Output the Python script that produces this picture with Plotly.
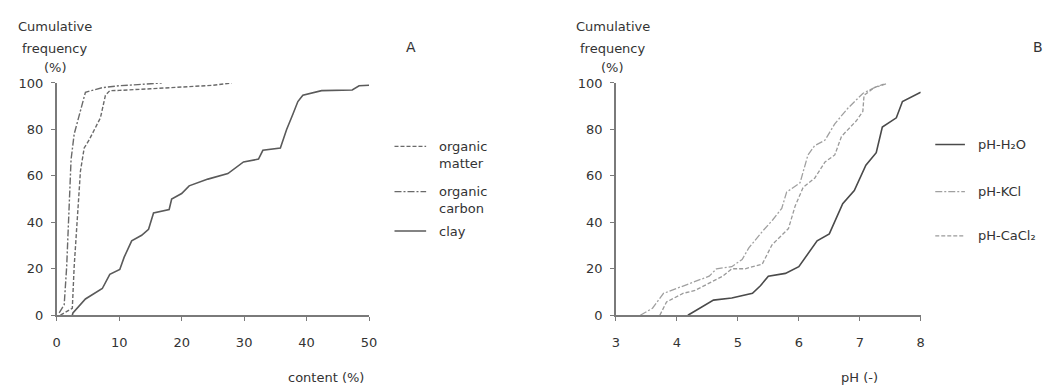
import plotly.graph_objects as go

# ---- Panel A: cumulative frequency of soil content (%) ----
om_content = [0.6, 2.5, 2.8, 3.3, 3.8, 4.4, 5.2, 7.0, 7.8, 8.5, 10, 15, 20, 25, 28]
om_freq = [0, 3, 21, 40, 62, 72, 75.5, 85, 94.7, 96.7, 96.8, 97.5, 98.3, 99, 100]

oc_content = [0.4, 1.2, 1.6, 2.0, 2.3, 2.8, 3.6, 4.6, 7.3, 10, 13, 16.8]
oc_freq = [1, 4.5, 21, 48, 67, 78, 86.5, 96, 98, 98.8, 99.3, 100]

clay_content = [2.5, 2.6, 4.6, 7.3, 8.5, 10.1, 10.8, 12.0, 13.6, 14.7, 15.5, 18.0,
                18.4, 20.0, 21.2, 24.2, 27.4, 29.9, 32.3, 33.0, 35.8, 36.8, 37.8,
                38.6, 39.4, 42.4, 47.3, 48.4, 50.0]
clay_freq = [0, 1, 7, 11.5, 17.6, 19.7, 25, 32, 34.4, 37, 44, 45.5,
             50, 52.4, 55.7, 58.6, 61, 66, 67.2, 71, 72, 80, 86.5,
             92, 94.7, 96.7, 97, 98.8, 99]

# ---- Panel B: cumulative frequency of pH ----
ph_h2o = [4.18, 4.6, 4.9, 5.24, 5.37, 5.5, 5.78, 6.0, 6.3, 6.5, 6.72, 6.91,
          7.1, 7.27, 7.37, 7.6, 7.7, 8.0]
ph_h2o_freq = [0, 6.5, 7.4, 9.4, 12.7, 16.8, 18, 20.9, 32, 35, 48, 53.7,
               64.6, 70, 81, 85, 92, 96]

ph_kcl = [3.4, 3.6, 3.78, 4.1, 4.53, 4.65, 4.9, 5.07, 5.18, 5.4, 5.57, 5.72,
          5.8, 6.02, 6.15, 6.26, 6.43, 6.59, 6.8, 7.05, 7.24, 7.43]
ph_kcl_freq = [0, 3, 9.4, 12.7, 16.8, 20, 20.9, 24, 29, 36, 41, 46,
               53, 57, 69, 73, 75.4, 82.4, 89, 95.5, 98, 99.6]

ph_cacl2 = [3.72, 3.83, 4.1, 4.3, 4.75, 4.9, 5.12, 5.4, 5.56, 5.83, 5.94, 6.07,
            6.26, 6.43, 6.59, 6.7, 6.94, 7.05, 7.07, 7.24, 7.4]
ph_cacl2_freq = [0, 5.7, 9.4, 10.7, 16.8, 20, 20, 22, 30.3, 37.3, 47, 55,
                 59, 66, 69, 77, 83.6, 87.7, 94.7, 98, 99.6]

y_ticks = [0, 20, 40, 60, 80, 100]
content_ticks = [0, 10, 20, 30, 40, 50]
ph_ticks = [3, 4, 5, 6, 7, 8]

FONT = "DejaVu Sans"
TXT = "#333333"
AX = "#7a7a7a"

DASH = "4px,2px"
DASHDOT = "7px,2px,2px,2px"

fig = go.Figure()

panel_a = [
    ("organic matter", om_content, om_freq, "#6a6a6a", DASH, 1.4),
    ("organic carbon", oc_content, oc_freq, "#6a6a6a", DASHDOT, 1.4),
    ("clay", clay_content, clay_freq, "#5a5a5a", "solid", 1.6),
]
for name, x, y, col, dash, w in panel_a:
    fig.add_trace(go.Scatter(x=x, y=y, mode="lines", name=name,
                             line=dict(color=col, dash=dash, width=w),
                             xaxis="x", yaxis="y", showlegend=False))

panel_b = [
    ("pH-H₂O", ph_h2o, ph_h2o_freq, "#4a4a4a", "solid", 1.6),
    ("pH-KCl", ph_kcl, ph_kcl_freq, "#a0a0a0", DASHDOT, 1.3),
    ("pH-CaCl₂", ph_cacl2, ph_cacl2_freq, "#9a9a9a", DASH, 1.3),
]
for name, x, y, col, dash, w in panel_b:
    fig.add_trace(go.Scatter(x=x, y=y, mode="lines", name=name,
                             line=dict(color=col, dash=dash, width=w),
                             xaxis="x2", yaxis="y2", showlegend=False))

W, H = 1053, 391


def px(x):
    return x / W


def py(y):
    return 1 - y / H


axis_common = dict(showgrid=False, zeroline=False, showline=True,
                   linecolor=AX, linewidth=1.5, ticks="outside",
                   ticklen=4, tickwidth=1.2, tickcolor=AX,
                   tickfont=dict(family=FONT, size=13, color=TXT))

fig.update_layout(
    width=W, height=H,
    margin=dict(l=0, r=0, t=0, b=0),
    paper_bgcolor="white", plot_bgcolor="white",
    xaxis=dict(domain=[px(53.3), px(369.3)], range=[0, 50],
               tickvals=content_ticks, anchor="y",
               ticklabelstandoff=10, **axis_common),
    yaxis=dict(domain=[py(320.5), py(79)], range=[0, 100],
               tickvals=y_ticks, anchor="x",
               ticklabelstandoff=5, **axis_common),
    xaxis2=dict(domain=[px(619), px(927.3)], range=[3, 8],
                tickvals=ph_ticks, anchor="y2",
                ticklabelstandoff=10, **axis_common),
    yaxis2=dict(domain=[py(320.5), py(79)], range=[0, 100],
                tickvals=y_ticks, anchor="x2",
                ticklabelstandoff=5, **axis_common),
)

annotations = []


def text(x, y, s, anchor="center", size=13):
    annotations.append(dict(x=px(x), y=py(y), xref="paper", yref="paper",
                            text=s, showarrow=False, xanchor=anchor,
                            yanchor="middle",
                            font=dict(family=FONT, size=size, color=TXT)))


# y-axis titles stacked above each axis
for cx in (52, 616):
    text(cx, 20, "Cumulative")
    text(cx, 43, "frequency")
    text(cx, 63, "(%)")

# panel letters
text(412, 42, "A", size=14)
text(1046, 42, "B", size=14)

# x-axis titles
text(326, 385, "content (%)")
text(865, 385, "pH (-)")

# legend keys
shapes = []


def key(x0, x1, y, col, dash, w):
    shapes.append(dict(type="line", xref="paper", yref="paper",
                       x0=px(x0), x1=px(x1), y0=py(y), y1=py(y),
                       line=dict(color=col, dash=dash, width=w)))


key(395, 427, 145, "#6a6a6a", DASH, 1.3)
text(438, 145, "organic", anchor="left")
text(438, 163, "matter", anchor="left")
key(395, 427, 192, "#6a6a6a", DASHDOT, 1.3)
text(438, 192, "organic", anchor="left")
text(438, 210, "carbon", anchor="left")
key(395, 427, 233, "#5a5a5a", "solid", 1.5)
text(438, 233, "clay", anchor="left")

key(942, 972, 143, "#4a4a4a", "solid", 1.5)
text(983, 143, "pH-H₂O", anchor="left")
key(942, 972, 192, "#a0a0a0", DASHDOT, 1.2)
text(983, 192, "pH-KCl", anchor="left")
key(942, 972, 238, "#9a9a9a", DASH, 1.2)
text(983, 238, "pH-CaCl₂", anchor="left")

fig.update_layout(annotations=annotations, shapes=shapes)

fig.write_html("out.html")
